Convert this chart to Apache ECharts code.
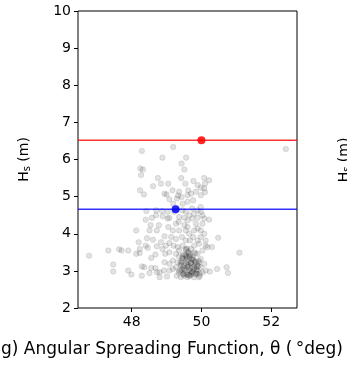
<!DOCTYPE html>
<html><head><meta charset="utf-8">
<script src="https://cdn.jsdelivr.net/npm/echarts@6/dist/echarts.min.js"></script>
<style>html,body{margin:0;padding:0;background:#fff;}#c{width:347px;height:365px;}</style>
</head><body><div id="c"></div>
<script>
// Scatter observations: [angular spreading (deg), Hs (m)]
const scatterX = [48.29,49.19,52.42,48.88,49.56,49.43,49.51,48.25,48.32,48.27,48.75,49.42,50.08,50.22,48.24,48.35,48.61,48.84,49.05,49.54,
49.77,49.89,49.98,50.08,50.10,49.62,49.84,48.94,49.00,49.36,49.33,49.08,49.19,49.30,49.43,49.60,48.42,48.70,48.87,49.03,
49.08,49.46,49.51,49.60,49.73,49.79,49.89,49.98,50.08,50.22,48.40,48.58,48.78,48.13,48.51,48.72,48.94,49.13,49.27,49.36,
49.44,49.55,49.65,49.67,49.79,49.89,49.98,50.08,50.12,50.48,48.20,48.44,48.61,48.84,48.98,49.08,48.23,48.46,48.72,48.88,
47.33,47.64,47.71,47.90,46.78,48.13,48.23,48.68,49.08,49.27,49.36,49.46,49.63,49.75,49.89,49.98,50.17,50.30,51.09,47.47,
47.47,47.90,47.99,48.29,48.36,48.29,48.56,48.68,48.80,48.80,49.01,48.94,49.08,49.18,49.27,49.29,49.36,49.41,49.44,49.51,
49.57,49.60,49.65,49.70,49.79,49.84,49.89,49.95,49.98,50.08,50.12,50.24,50.45,50.72,50.76,48.51,49.55,49.46,49.70,49.79,
49.93,50.03,49.76,49.98,49.60,49.55,49.65,49.84,50.03,49.98,49.36,49.27,49.18,49.05,49.48,49.60,49.79,49.93,49.41,49.70,
49.51,49.36,49.84,50.03,49.60,49.74,49.46,49.65,49.79,49.93,49.32,49.18,49.08,48.92,48.72,48.40,48.56,48.96,49.20,49.32,
49.55,49.89,50.12,49.35,49.51,49.74,49.89,50.03,48.70,48.89,49.03,48.54,49.22,49.46,49.76,49.60,49.70,49.17,49.98,50.10,
49.50,49.62,49.72,49.82,49.45,49.58,49.68,49.40,49.88,49.55,49.66,49.78,49.52,49.70,49.62,49.85,49.42,49.57,49.75,49.65,
49.48,49.53,49.60,49.67,49.74,49.81,49.88,49.95,49.44,49.58,49.71,49.86,49.50,49.63,49.77,49.91,49.56,49.69,49.83,49.47,
49.35,49.61,49.73,49.87,49.40,49.54,49.92,49.66,49.79,49.59];
const scatterY = [6.23,6.34,6.28,6.05,6.05,5.89,5.73,5.76,5.73,5.58,5.50,5.50,5.50,5.44,5.17,5.06,5.28,5.35,5.35,5.35,
5.42,5.31,5.24,5.22,5.12,5.17,5.13,5.08,5.06,5.13,5.03,4.93,4.81,4.95,4.99,4.86,4.61,4.63,4.61,4.41,
4.43,4.63,4.43,4.36,4.68,4.54,4.43,4.59,4.41,4.38,4.38,4.43,4.23,4.09,4.09,4.09,3.93,3.91,3.86,4.09,
3.91,4.09,4.00,3.82,4.09,4.14,4.09,4.00,3.82,3.89,3.77,3.88,3.84,3.77,3.68,3.75,3.59,3.62,3.66,3.59,
3.55,3.58,3.55,3.55,3.41,3.46,3.48,3.44,3.50,3.46,3.55,3.41,3.48,3.37,3.46,3.32,3.64,3.64,3.49,3.17,
2.98,3.01,2.90,3.12,3.10,2.87,3.08,3.08,2.96,2.83,2.85,3.23,3.19,3.28,3.10,2.87,3.39,3.23,3.03,2.87,
3.19,3.32,3.01,2.92,3.14,3.23,3.01,2.87,3.10,3.19,3.01,2.98,3.05,3.10,2.94,2.94,3.59,3.68,3.59,3.68,
3.73,3.55,3.91,3.91,4.18,4.59,4.50,4.27,4.27,4.72,4.45,4.27,4.09,4.18,2.92,2.83,2.83,2.83,2.83,3.21,
3.14,3.01,2.92,2.96,3.10,3.10,3.32,3.41,3.50,3.23,3.23,3.05,3.01,3.01,2.96,3.68,3.35,3.46,3.68,3.64,
3.82,3.82,3.68,4.32,4.23,4.41,4.63,4.50,4.50,4.47,4.59,4.23,4.59,4.81,4.90,5.04,5.08,5.17,5.04,5.35,
3.05,3.15,2.95,3.25,3.35,2.90,3.45,3.00,3.12,3.28,3.38,3.05,2.95,3.20,3.52,2.98,3.15,3.40,3.30,2.88,
2.90,3.02,3.12,2.86,2.97,3.08,3.18,2.93,3.26,3.36,3.22,3.04,3.44,2.89,3.30,3.13,3.56,2.99,3.47,3.10,
2.95,3.24,3.33,2.92,3.17,3.42,3.27,3.06,2.91,3.60];
// Reference statistics
const redStat = [50.0, 6.52];
const blueStat = [49.26, 4.66];
const xTicks = [48, 50, 52];
const yTicks = [2,3,4,5,6,7,8,9,10];

const font = 'DejaVu Sans';
const pts = scatterX.map((x,i)=>[x, scatterY[i]]);
const xMin = 46.46, xMax = 52.74;

const chart = echarts.init(document.getElementById('c'), null, {renderer:'canvas'});
chart.setOption({
  animation:false,
  grid:{left:78, top:11, width:219, height:297, show:true, borderColor:'#000', borderWidth:1, containLabel:false},
  xAxis:{type:'value', min:xMin, max:xMax, splitLine:{show:false},
    axisLine:{show:false},
    axisTick:{show:true, customValues:xTicks, length:4, inside:false, lineStyle:{color:'#000'}},
    axisLabel:{customValues:xTicks, color:'#000', fontFamily:font, fontSize:14, margin:7}},
  yAxis:{type:'value', min:2, max:10, interval:1, splitLine:{show:false},
    axisLine:{show:false},
    axisTick:{show:true, length:4, lineStyle:{color:'#000'}},
    axisLabel:{color:'#000', fontFamily:font, fontSize:14, margin:7},
    name:'{a|H}{s|s}{a| (m)}', nameLocation:'middle', nameGap:46,
    nameTextStyle:{fontFamily:font, color:'#000', rich:{a:{fontFamily:font, fontSize:14, color:'#000'}, s:{fontFamily:font, fontSize:10, color:'#000', padding:[6,0,0,0]}}}},
  graphic:[
    {type:'text', right:4, top:341, style:{text:'(g) Angular Spreading Function, θ (\u2009°deg)', font:'17px "DejaVu Sans"', fill:'#000'}},
    {type:'text', x:352, y:160, rotation:Math.PI/2, style:{text:'{a|H}{s|s}{a| (m)}', font:'14px "DejaVu Sans"', fill:'#000', align:'center', verticalAlign:'bottom',
      rich:{a:{fontFamily:font, fontSize:14, fill:'#000'}, s:{fontFamily:font, fontSize:10, fill:'#000', padding:[6,0,0,0]}}}}
  ],
  series:[
    {type:'scatter', data:pts, symbolSize:5.5, itemStyle:{color:'rgba(0,0,0,0.14)', borderColor:'rgba(0,0,0,0.12)', borderWidth:1}, z:2},
    {type:'line', data:[[xMin, redStat[1]],[xMax, redStat[1]]], symbol:'none', lineStyle:{color:'rgba(255,0,0,0.8)', width:1.6}, z:3},
    {type:'line', data:[[xMin, blueStat[1]],[xMax, blueStat[1]]], symbol:'none', lineStyle:{color:'rgba(0,0,255,0.8)', width:1.6}, z:3},
    {type:'scatter', data:[redStat], symbolSize:8, itemStyle:{color:'#ff0000', opacity:0.85}, z:4},
    {type:'scatter', data:[blueStat], symbolSize:8, itemStyle:{color:'#0000ff', opacity:0.85}, z:4}
  ]
});
</script></body></html>
